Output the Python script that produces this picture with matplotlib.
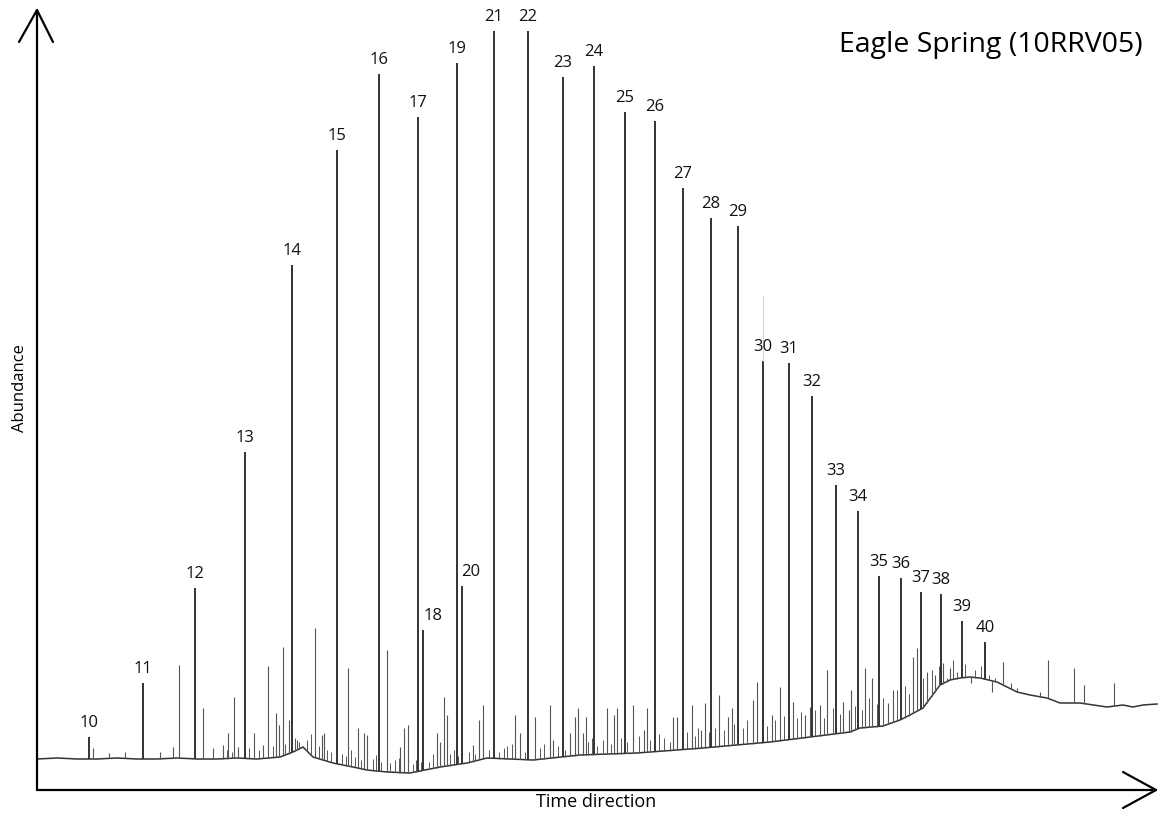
import numpy as np
import matplotlib
matplotlib.use("Agg")
import matplotlib.pyplot as plt

plt.rcParams["font.family"] = ["Open Sans", "DejaVu Sans"]

# Labelled n-alkane peaks: carbon number, retention (time units), apex abundance
peak_labels = [10, 11, 12, 13, 14, 15, 16, 17, 18, 19, 20, 21, 22, 23, 24, 25,
               26, 27, 28, 29, 30, 31, 32, 33, 34, 35, 36, 37, 38, 39, 40]
peak_time = [52, 106, 158, 208, 255, 300, 342, 381, 386, 420, 425, 457, 491,
             526, 557, 588, 618, 646, 674, 701, 726, 752, 775, 799, 821, 842,
             864, 884, 904, 925, 948]
peak_height = [53, 107, 202, 338, 525, 640, 716, 673, 160, 727, 204, 759, 759,
               713, 724, 678, 669, 602, 572, 564, 429, 427, 394, 305, 279, 214,
               212, 198, 196, 169, 148]
# labels for 18 and 20 sit to the right of their peaks
label_shift = {18: 10, 20: 9}

# Unresolved baseline (hump) of the trace
base_time = [0, 20, 40, 60, 80, 100, 120, 140, 160, 180, 200, 220, 243, 256,
             266, 276, 296, 316, 330, 350, 373, 403, 430, 450, 496, 543, 600,
             666, 733, 813, 823, 846, 863, 873, 886, 903, 913, 923, 933, 943,
             960, 980, 993, 1010, 1023, 1043, 1070, 1086, 1096, 1106, 1120]
base_height = [31, 32, 31, 31, 32, 31, 31, 32, 31, 31, 32, 31, 33, 38, 43, 33,
               27, 23, 20, 18, 17, 23, 27, 32, 30, 35, 37, 42, 48, 58, 62, 64,
               70, 75, 82, 105, 110, 112, 113, 112, 108, 98, 95, 92, 87, 87, 83,
               85, 83, 85, 86]

# Smaller unlabelled components (time, apex abundance)
minor_time = [56, 72, 88, 123, 136, 142, 166, 176, 186, 191, 197, 201, 217,
              226, 231, 239, 242, 246, 252, 260, 266, 278, 285, 287, 311, 321,
              327, 330, 350, 363, 367, 371, 400, 403, 407, 410, 436, 442, 446,
              478, 483, 498, 513, 516, 533, 538, 541, 546, 549, 570, 577, 580,
              596, 607, 610, 636, 640, 655, 664, 668, 682, 691, 695, 716, 720,
              735, 743, 756, 768, 773, 783, 790, 806, 812, 814, 828, 835, 851,
              856, 876, 880, 890, 898, 906, 910, 913, 934, 955, 966, 974, 980,
              1003, 1011, 1037, 1047, 1077]
minor_height = [42, 37, 38, 38, 43, 125, 82, 42, 45, 57, 93, 43, 57, 45, 124,
                77, 65, 143, 70, 50, 42, 162, 55, 57, 122, 62, 57, 55, 140, 43,
                62, 65, 57, 48, 93, 75, 45, 70, 85, 75, 57, 73, 85, 50, 57, 73,
                82, 57, 73, 82, 75, 82, 85, 60, 82, 73, 73, 85, 60, 87, 95, 73,
                82, 90, 108, 75, 103, 88, 75, 83, 85, 120, 88, 80, 100, 122,
                112, 87, 100, 133, 142, 118, 115, 127, 112, 122, 107, 98, 128,
                107, 102, 98, 130, 122, 105, 107]

# Low-level noise ("grass") riding on the hump
grass_time = [190, 195, 212, 222, 236, 248, 258, 262, 270, 274, 282, 290, 294,
              305, 309, 314, 318, 324, 336, 339, 344, 353, 358, 362, 376, 379,
              384, 392, 396, 413, 417, 421, 432, 438, 452, 462, 467, 470, 475,
              488, 503, 507, 521, 528, 551, 555, 560, 566, 574, 584, 590, 602,
              613, 622, 627, 633, 650, 658, 661, 672, 678, 687, 697, 706, 710,
              725, 730, 738, 747, 760, 764, 778, 787, 796, 803, 818, 825, 832,
              840, 846, 860, 868, 872, 886, 895, 902, 916, 920, 928, 938, 944,
              952, 958]
grass_height = [40, 38, 42, 40, 44, 46, 52, 48, 50, 56, 44, 40, 38, 36, 34, 40,
                33, 30, 31, 35, 28, 27, 30, 32, 26, 30, 28, 28, 36, 36, 40, 34,
                38, 36, 40, 38, 42, 44, 46, 38, 42, 46, 44, 40, 48, 52, 44, 50,
                46, 52, 48, 54, 50, 56, 52, 48, 58, 54, 62, 58, 62, 60, 66, 62,
                70, 72, 64, 70, 74, 72, 78, 80, 72, 82, 76, 84, 80, 92, 86, 92,
                100, 104, 96, 112, 120, 124, 130, 118, 126, 120, 124, 115, 112]

TRACE = "#333333"

fig = plt.figure(figsize=(11.59, 8.16), dpi=100)
fig.patch.set_facecolor("white")
W, H = 1159, 816
ax = fig.add_axes([37 / W, 26 / H, 1119 / W, 780 / H])
ax.set_xlim(0, 1119)
ax.set_ylim(0, 780)
ax.axis("off")

# baseline trace
ax.plot(base_time, base_height, color=TRACE, lw=1.1, clip_on=False)

# noise and minor components
grass_foot = np.interp(grass_time, base_time, base_height)
ax.vlines(grass_time, grass_foot, grass_height, color="#555555", lw=0.7)
minor_foot = np.interp(minor_time, base_time, base_height)
ax.vlines(minor_time, minor_foot, minor_height, color="#555555", lw=0.8)

# labelled peaks
foot = np.interp(peak_time, base_time, base_height)
ax.vlines(peak_time, foot, peak_height, color=TRACE, lw=1.4)
for lab, t, h in zip(peak_labels, peak_time, peak_height):
    ax.annotate(str(lab), (t, h), xytext=(label_shift.get(lab, 0) * 0.72, 4),
                textcoords="offset points", ha="center", va="bottom",
                fontsize=12, color="#111111")

# faint ghost line above C30
ax.vlines([726], [429], [495], color="#d8d8d8", lw=0.8)

# hand-drawn style axis arrows
ak = dict(color="black", lw=1.6, clip_on=False, solid_capstyle="round")
ax.plot([0, 0], [0, 780], **ak)
ax.plot([-18, 0, 16], [748, 780, 748], **ak)
ax.plot([0, 1119], [0, 0], **ak)
ax.plot([1086, 1119, 1086], [18, 0, -18], **ak)

fig.text(20 / W, 1 - 388 / H, "Abundance", rotation=90, ha="center",
         va="center", fontsize=12)
fig.text(596 / W, 1 - 802 / H, "Time direction", ha="center", va="center",
         fontsize=13)
fig.text(991 / W, 1 - 45 / H, "Eagle Spring (10RRV05)", ha="center",
         va="center", fontsize=20.5)

fig.savefig("out.png", dpi=100, facecolor="white")
